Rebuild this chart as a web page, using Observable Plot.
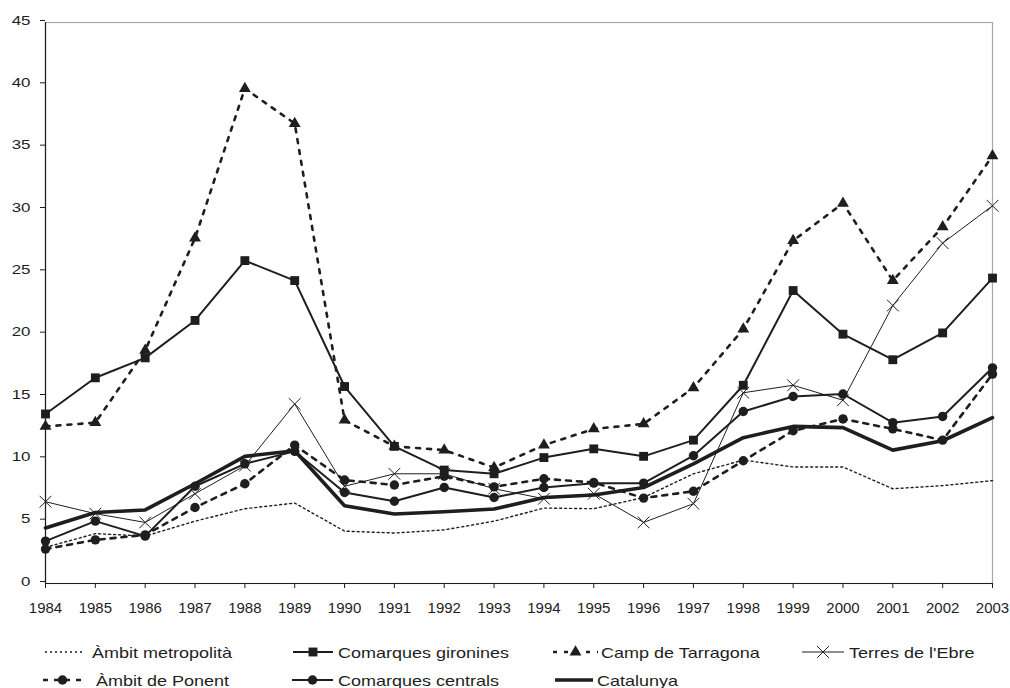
<!DOCTYPE html>
<html><head><meta charset="utf-8">
<script src="https://cdn.jsdelivr.net/npm/d3@7"></script>
<script src="https://cdn.jsdelivr.net/npm/@observablehq/plot@0.6"></script>
<style>
body{margin:0;background:#fff;}
#chart{width:1010px;}
svg{display:block;}
</style>
</head><body><div id="chart"></div>
<script>
// ---- data ----
const years = [1984,1985,1986,1987,1988,1989,1990,1991,1992,1993,1994,1995,1996,1997,1998,1999,2000,2001,2002,2003];
const yTicks = [0,5,10,15,20,25,30,35,40,45];
const seriesNames = ["Àmbit metropolità","Comarques gironines","Camp de Tarragona","Terres de l'Ebre","Àmbit de Ponent","Comarques centrals","Catalunya"];
const ambitMetropolita   = [2.9,4.0,3.8,5.0,6.0,6.45,4.2,4.05,4.3,5.0,6.05,6.0,6.9,8.8,9.9,9.35,9.35,7.6,7.85,8.25];
const comarquesGironines = [13.6,16.5,18.1,21.1,25.9,24.3,15.8,11.0,9.1,8.8,10.1,10.8,10.2,11.5,15.9,23.5,20.0,17.95,20.1,24.5];
const campTarragona      = [12.6,12.9,18.7,27.7,39.7,36.9,13.1,11.0,10.7,9.3,11.1,12.4,12.8,15.7,20.4,27.5,30.5,24.3,28.6,34.3];
const terresEbre         = [6.56,5.6,4.9,7.2,9.45,14.4,7.8,8.8,8.8,7.6,6.8,7.2,4.9,6.4,15.3,15.9,14.7,22.3,27.3,30.3];
const ambitPonent        = [2.76,3.5,3.9,6.1,8.0,11.1,8.3,7.9,8.6,7.75,8.4,8.1,6.85,7.4,9.85,12.25,13.2,12.4,11.5,16.8];
const comarquesCentrals  = [3.4,5.0,3.8,7.8,9.6,10.6,7.3,6.6,7.7,6.9,7.7,8.05,8.05,10.25,13.8,15.0,15.2,12.9,13.4,17.3];
const catalunya          = [4.45,5.7,5.9,8.0,10.2,10.65,6.24,5.57,5.75,5.97,6.9,7.1,7.7,9.6,11.7,12.6,12.5,10.7,11.45,13.3];

// ---- styles ----
const ink = "#1e1e1e";
const styles = [
  {values: ambitMetropolita,   width:1.4, dash:"2,3",  symbol:null},
  {values: comarquesGironines, width:2,   dash:null,   symbol:"square"},
  {values: campTarragona,      width:2.6, dash:"4,7",  symbol:"triangle"},
  {values: terresEbre,         width:1,   dash:null,   symbol:"times"},
  {values: ambitPonent,        width:2.6, dash:"5,6",  symbol:"circle"},
  {values: comarquesCentrals,  width:2,   dash:null,   symbol:"circle"},
  {values: catalunya,          width:3.6, dash:null,   symbol:null}
];
const symR = {square:5, triangle:4.4, circle:4.7, times:5.4};

const marks = [Plot.frame({stroke:"#a8a8a8", strokeWidth:1.2})];
styles.forEach((s, k) => {
  const rows = years.map((yr, i) => ({year: yr, value: s.values[i], series: seriesNames[k]}));
  marks.push(Plot.line(rows, {x:"year", y:"value", stroke: ink, strokeWidth: s.width, strokeDasharray: s.dash || undefined}));
  if (s.symbol === "times") {
    marks.push(Plot.dot(rows, {x:"year", y:"value", symbol:"times", r: symR.times, stroke: ink, strokeWidth: 1, fill: "none"}));
  } else if (s.symbol) {
    marks.push(Plot.dot(rows, {x:"year", y:"value", symbol: s.symbol, r: symR[s.symbol], fill: ink, stroke: "none"}));
  }
});
marks.push(Plot.ruleX([years[0]], {stroke: ink, strokeWidth: 1.2}));
marks.push(Plot.ruleY([0], {stroke: ink, strokeWidth: 1.2}));
marks.push(Plot.axisX({ticks: years, tickFormat: d => String(d), tickSize: 5, tickPadding: 14, stroke: ink, fill: ink, label: null}));
marks.push(Plot.axisY({ticks: yTicks, tickSize: 5, tickPadding: 10, stroke: ink, fill: ink, dy: -2, label: null}));

const plot = Plot.plot({
  width: 1010, height: 620,
  marginLeft: 45, marginRight: 18, marginTop: 22, marginBottom: 37,
  x: {type: "linear", domain: [years[0], years[years.length-1]], label: null},
  y: {domain: [0, 45], label: null},
  style: {fontFamily: "'Liberation Sans', Arial, sans-serif", fontSize: "13px", color: ink, background: "#fff"},
  marks
});
document.getElementById("chart").appendChild(plot);

// ---- legend ----
const legendLayout = [
  {k:0, row:0, x0:45,  x1:82,  tx:92},
  {k:1, row:0, x0:293, x1:333, tx:338},
  {k:2, row:0, x0:553, x1:598, tx:601},
  {k:3, row:0, x0:802, x1:844, tx:849},
  {k:4, row:1, x0:43,  x1:82,  tx:96},
  {k:5, row:1, x0:292, x1:333, tx:338},
  {k:6, row:1, x0:555, x1:593, tx:597}
];
const rowY = [32, 60];
const leg = d3.create("svg").attr("width", 1010).attr("height", 68)
  .style("font-family", "'Liberation Sans', Arial, sans-serif").style("font-size", "15px");
const symMap = {square: d3.symbolSquare, triangle: d3.symbolTriangle, circle: d3.symbolCircle, times: d3.symbolTimes};
legendLayout.forEach(L => {
  const s = styles[L.k];
  const y = rowY[L.row];
  leg.append("line").attr("x1", L.x0).attr("x2", L.x1).attr("y1", y).attr("y2", y)
    .attr("stroke", ink).attr("stroke-width", s.width).attr("stroke-dasharray", s.dash || null);
  if (s.symbol) {
    const r = symR[s.symbol];
    const p = leg.append("path").attr("transform", `translate(${(L.x0+L.x1)/2},${y})`)
      .attr("d", d3.symbol(symMap[s.symbol], Math.PI * r * r)());
    if (s.symbol === "times") p.attr("fill", "none").attr("stroke", ink).attr("stroke-width", 1);
    else p.attr("fill", ink);
  }
  leg.append("text").attr("class", "legtext").attr("x", L.tx).attr("y", y + 5.5).attr("fill", ink).text(seriesNames[L.k]);
});
document.getElementById("chart").appendChild(leg.node());

// tick label sizing: year labels (x) larger; value labels (y) widened
function stretch(t, f) {
  const w = t.getComputedTextLength();
  if (w > 0) { t.setAttribute("textLength", (w * f).toFixed(1)); t.setAttribute("lengthAdjust", "spacingAndGlyphs"); }
}
plot.querySelectorAll("text").forEach(t => {
  const s = t.textContent.trim();
  if (/^\d{4}$/.test(s)) { t.style.fontSize = "15px"; }
  else if (/^\d{1,2}$/.test(s)) { stretch(t, 1.3); }
});
leg.node().querySelectorAll("text.legtext").forEach(t => stretch(t, 1.2));
</script>
</body></html>
